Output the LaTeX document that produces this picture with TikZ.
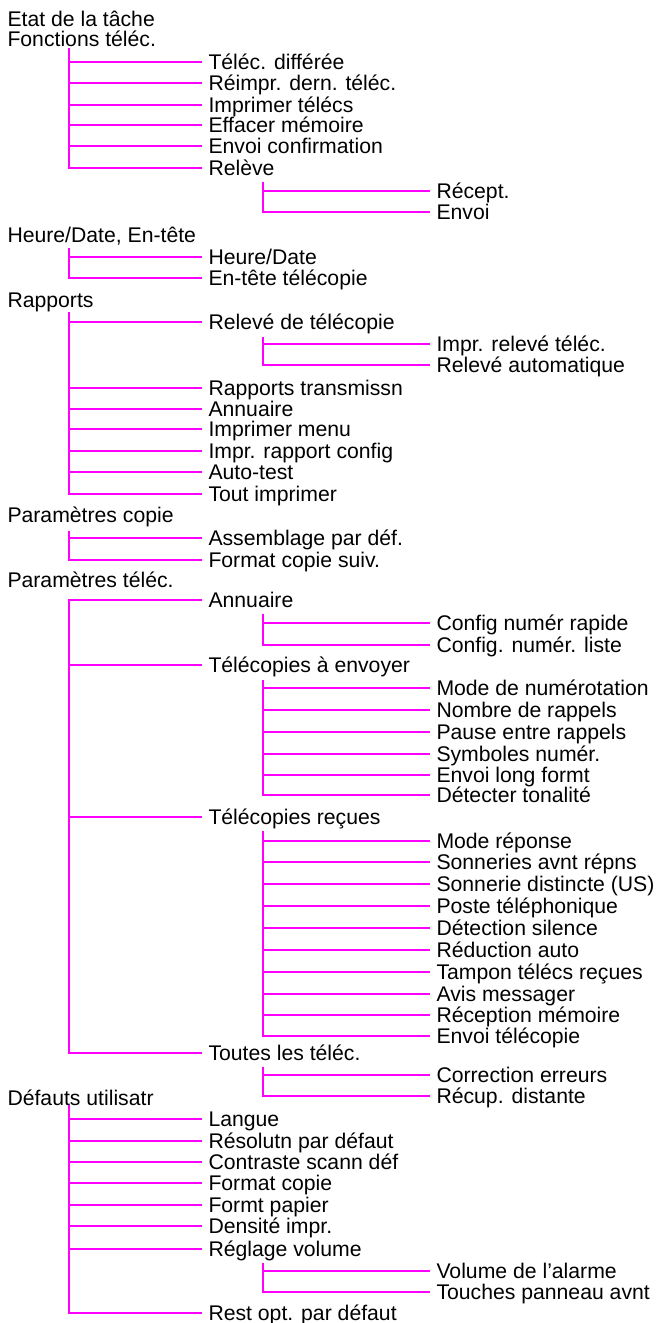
\documentclass[tikz,border=0pt]{standalone}
\usepackage{fontspec}
\setmainfont{Liberation Sans}
\definecolor{mag}{RGB}{255,0,255}
\begin{document}
\begin{tikzpicture}[x=1pt,y=-1pt,
  lbl/.style={font=\fontsize{21.2}{24}\selectfont, inner sep=0pt, outer sep=0pt,
              text height=15.2pt, text depth=0pt, anchor=west},
  conn/.style={draw=mag, line width=2pt, shorten >=7pt},
  trunk/.style={draw=mag, line width=2pt, line cap=rect}]
\useasboundingbox (0,0) rectangle (661,1323);

% ---------- Level 0 ----------
\node[lbl] (etat) at (7.5,19)   {Etat de la tâche};
\node[lbl] (fonc) at (7.5,39)   {Fonctions téléc.};
\node[lbl] (hd)   at (7.5,235)  {Heure/Date, En-tête};
\node[lbl] (rap)  at (7.5,300)  {Rapports};
\node[lbl] (pc)   at (7.5,515)  {Paramètres copie};
\node[lbl] (pt)   at (7.5,580)  {Paramètres téléc.};
\node[lbl] (du)   at (7.5,1098) {Défauts utilisatr};

% ---------- Fonctions téléc. ----------
\node[lbl] (f1) at (208.5,62)  {Téléc. différée};
\node[lbl] (f2) at (208.5,83)  {Réimpr. dern. téléc.};
\node[lbl] (f3) at (208.5,105) {Imprimer télécs};
\node[lbl] (f4) at (208.5,125) {Effacer mémoire};
\node[lbl] (f5) at (208.5,146) {Envoi confirmation};
\node[lbl] (f6) at (208.5,168) {Relève};
\node[lbl] (f6a) at (436.5,191) {Récept.};
\node[lbl] (f6b) at (436.5,212) {Envoi};
\coordinate (tF)  at (69,49);
\coordinate (tF6) at (263,183);

% ---------- Heure/Date ----------
\node[lbl] (hd1) at (208.5,257) {Heure/Date};
\node[lbl] (hd2) at (208.5,278) {En-tête télécopie};
\coordinate (tH) at (69,249);

% ---------- Rapports ----------
\node[lbl] (r1) at (208.5,322)   {Relevé de télécopie};
\node[lbl] (r1a) at (436.5,344) {Impr. relevé téléc.};
\node[lbl] (r1b) at (436.5,365) {Relevé automatique};
\node[lbl] (r2) at (208.5,388) {Rapports transmissn};
\node[lbl] (r3) at (208.5,409) {Annuaire};
\node[lbl] (r4) at (208.5,429) {Imprimer menu};
\node[lbl] (r5) at (208.5,451) {Impr. rapport config};
\node[lbl] (r6) at (208.5,472) {Auto-test};
\node[lbl] (r7) at (208.5,494) {Tout imprimer};
\coordinate (tRap) at (69,313);
\coordinate (tR1)  at (263,338);

% ---------- Paramètres copie ----------
\node[lbl] (pc1) at (208.5,538) {Assemblage par déf.};
\node[lbl] (pc2) at (208.5,560) {Format copie suiv.};
\coordinate (tPC) at (69,532);

% ---------- Paramètres téléc. ----------
\node[lbl] (p1) at (208.5,600) {Annuaire};
\node[lbl] (p1a) at (436.5,623) {Config numér rapide};
\node[lbl] (p1b) at (436.5,645) {Config. numér. liste};
\node[lbl] (p2) at (208.5,665) {Télécopies à envoyer};
\node[lbl] (p2a) at (436.5,688) {Mode de numérotation};
\node[lbl] (p2b) at (436.5,710) {Nombre de rappels};
\node[lbl] (p2c) at (436.5,732) {Pause entre rappels};
\node[lbl] (p2d) at (436.5,754) {Symboles numér.};
\node[lbl] (p2e) at (436.5,775) {Envoi long formt};
\node[lbl] (p2f) at (436.5,795) {Détecter tonalité};
\node[lbl] (p3) at (208.5,817) {Télécopies reçues};
\node[lbl] (p3a) at (436.5,841)  {Mode réponse};
\node[lbl] (p3b) at (436.5,862)  {Sonneries avnt répns};
\node[lbl] (p3c) at (436.5,884)  {Sonnerie distincte (US)};
\node[lbl] (p3d) at (436.5,906)  {Poste téléphonique};
\node[lbl] (p3e) at (436.5,928)  {Détection silence};
\node[lbl] (p3f) at (436.5,950)  {Réduction auto};
\node[lbl] (p3g) at (436.5,972)  {Tampon télécs reçues};
\node[lbl] (p3h) at (436.5,994)  {Avis messager};
\node[lbl] (p3i) at (436.5,1015) {Réception mémoire};
\node[lbl] (p3j) at (436.5,1036) {Envoi télécopie};
\node[lbl] (p4) at (208.5,1053) {Toutes les téléc.};
\node[lbl] (p4a) at (436.5,1075) {Correction erreurs};
\node[lbl] (p4b) at (436.5,1096) {Récup. distante};
\coordinate (tPT) at (69,600);
\coordinate (tP1) at (263,615);
\coordinate (tP2) at (263,681);
\coordinate (tP3) at (263,832);
\coordinate (tP4) at (263,1068);

% ---------- Défauts utilisatr ----------
\node[lbl] (d1) at (208.5,1119) {Langue};
\node[lbl] (d2) at (208.5,1141) {Résolutn par défaut};
\node[lbl] (d3) at (208.5,1162) {Contraste scann déf};
\node[lbl] (d4) at (208.5,1183) {Format copie};
\node[lbl] (d5) at (208.5,1205) {Formt papier};
\node[lbl] (d6) at (208.5,1226) {Densité impr.};
\node[lbl] (d7) at (208.5,1249) {Réglage volume};
\node[lbl] (d7a) at (436.5,1271) {Volume de l’alarme};
\node[lbl] (d7b) at (436.5,1292) {Touches panneau avnt};
\node[lbl] (d8) at (208.5,1313) {Rest opt. par défaut};
\coordinate (tD)  at (69,1106);
\coordinate (tD7) at (263,1264);

% ---------- Connectors ----------
\draw[trunk] (tF) -- (tF |- f6.west);
\foreach \c in {f1,f2,f3,f4,f5,f6} \draw[conn] (tF |- \c.west) -- (\c.west);
\draw[trunk] (tF6) -- (tF6 |- f6b.west);
\foreach \c in {f6a,f6b} \draw[conn] (tF6 |- \c.west) -- (\c.west);

\draw[trunk] (tH) -- (tH |- hd2.west);
\foreach \c in {hd1,hd2} \draw[conn] (tH |- \c.west) -- (\c.west);

\draw[trunk] (tRap) -- (tRap |- r7.west);
\foreach \c in {r1,r2,r3,r4,r5,r6,r7} \draw[conn] (tRap |- \c.west) -- (\c.west);
\draw[trunk] (tR1) -- (tR1 |- r1b.west);
\foreach \c in {r1a,r1b} \draw[conn] (tR1 |- \c.west) -- (\c.west);

\draw[trunk] (tPC) -- (tPC |- pc2.west);
\foreach \c in {pc1,pc2} \draw[conn] (tPC |- \c.west) -- (\c.west);

\draw[trunk] (tPT) -- (tPT |- p4.west);
\foreach \c in {p1,p2,p3,p4} \draw[conn] (tPT |- \c.west) -- (\c.west);
\draw[trunk] (tP1) -- (tP1 |- p1b.west);
\foreach \c in {p1a,p1b} \draw[conn] (tP1 |- \c.west) -- (\c.west);
\draw[trunk] (tP2) -- (tP2 |- p2f.west);
\foreach \c in {p2a,p2b,p2c,p2d,p2e,p2f} \draw[conn] (tP2 |- \c.west) -- (\c.west);
\draw[trunk] (tP3) -- (tP3 |- p3j.west);
\foreach \c in {p3a,p3b,p3c,p3d,p3e,p3f,p3g,p3h,p3i,p3j} \draw[conn] (tP3 |- \c.west) -- (\c.west);
\draw[trunk] (tP4) -- (tP4 |- p4b.west);
\foreach \c in {p4a,p4b} \draw[conn] (tP4 |- \c.west) -- (\c.west);

\draw[trunk] (tD) -- (tD |- d8.west);
\foreach \c in {d1,d2,d3,d4,d5,d6,d7,d8} \draw[conn] (tD |- \c.west) -- (\c.west);
\draw[trunk] (tD7) -- (tD7 |- d7b.west);
\foreach \c in {d7a,d7b} \draw[conn] (tD7 |- \c.west) -- (\c.west);
\end{tikzpicture}
\end{document}
